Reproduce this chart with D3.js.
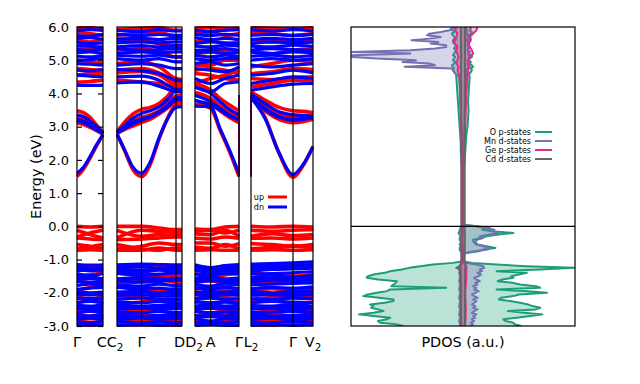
<!DOCTYPE html>
<html>
<head>
<meta charset="utf-8">
<script src="https://cdn.jsdelivr.net/npm/d3@7"></script>
<style>
  body { margin: 0; background: #fff; }
  text { font-family: 'DejaVu Sans', sans-serif; }
</style>
</head>
<body>
<div id="chart"></div>
<script>
// ---------------- DATA ----------------
var energyTicks = [-3, -2, -1, 0, 1, 2, 3, 4, 5, 6];

// high symmetry points (k distance inside each panel)
var kNodes = [[0, 0.26], [0, 0.245, 0.59, 0.65], [0, 0.157, 0.44], [0, 0.42, 0.62]];
var kLabels = [
  { text: 'Γ', at: [0, 0] },
  { text: 'CC', sub: '2', at: [0, 0.26], to: [1, 0] },
  { text: 'Γ', at: [1, 0.245] },
  { text: 'DD', sub: '2', at: [1, 0.65], to: [2, 0] },
  { text: 'A', at: [2, 0.157] },
  { text: 'Γ', at: [2, 0.44] },
  { text: 'L', sub: '2', at: [3, 0] },
  { text: 'Γ', at: [3, 0.42] },
  { text: 'V', sub: '2', at: [3, 0.62] }
];

// k samples for the dispersive bands and for the flat ones
var kFine = [
  [0, 0.065, 0.13, 0.195, 0.26],
  [0, 0.08, 0.16, 0.245, 0.33, 0.42, 0.50, 0.59, 0.65],
  [0, 0.157, 0.25, 0.345, 0.44],
  [0, 0.14, 0.28, 0.42, 0.52, 0.62]
];
var kCoarse = [[0, 0.13, 0.26], [0, 0.245, 0.42, 0.59, 0.65], [0, 0.157, 0.30, 0.44], [0, 0.21, 0.42, 0.62]];

// spin up bands (eV)
var upFine = [
  [[1.50,1.72,2.05,2.42,2.76],[2.78,2.25,1.70,1.50,1.85,2.62,3.22,3.66,3.68],[3.68,3.55,2.90,2.25,1.50],[3.92,3.28,2.20,1.48,1.82,2.40]],
  [[3.48,3.42,3.28,3.05,2.82],[2.85,3.15,3.38,3.52,3.58,3.70,3.90,4.20,4.22],[4.30,4.10,3.85,3.65,3.48],[4.05,3.80,3.58,3.48,3.46,3.42]],
  [[3.28,3.22,3.10,2.95,2.80],[2.82,3.00,3.15,3.28,3.35,3.48,3.68,3.92,3.94],[4.03,3.85,3.62,3.45,3.28],[3.95,3.62,3.38,3.28,3.30,3.34]],
  [[3.12,3.06,2.98,2.88,2.78],[2.80,2.92,3.02,3.12,3.22,3.38,3.55,3.75,3.76],[3.64,3.70,3.48,3.28,3.12],[3.85,3.48,3.22,3.12,3.15,3.22]]
];
var upCoarse = [
  [[0.00,-0.02,0.00],[0.00,0.00,-0.05,-0.10,-0.10],[-0.08,-0.10,-0.02,0.00],[0.00,-0.02,0.00,-0.02]],
  [[-0.12,-0.25,-0.35],[-0.35,-0.12,-0.15,-0.18,-0.18],[-0.15,-0.12,-0.20,-0.12],[-0.12,-0.15,-0.12,-0.10]],
  [[-0.32,-0.20,-0.12],[-0.12,-0.30,-0.25,-0.28,-0.28],[-0.22,-0.25,-0.12,-0.30],[-0.30,-0.22,-0.28,-0.25]],
  [[-0.35,-0.38,-0.40],[-0.40,-0.38,-0.35,-0.32,-0.32],[-0.35,-0.38,-0.32,-0.36],[-0.36,-0.35,-0.38,-0.35]],
  [[-0.55,-0.60,-0.68],[-0.68,-0.60,-0.50,-0.55,-0.55],[-0.50,-0.50,-0.60,-0.52],[-0.52,-0.55,-0.60,-0.55]],
  [[-0.68,-0.62,-0.55],[-0.55,-0.68,-0.72,-0.65,-0.65],[-0.62,-0.66,-0.55,-0.68],[-0.68,-0.62,-0.58,-0.65]],
  [[-0.72,-0.70,-0.72],[-0.72,-0.72,-0.65,-0.72,-0.72],[-0.72,-0.70,-0.72,-0.72],[-0.72,-0.70,-0.72,-0.70]],
  [[-1.22,-1.20,-1.24],[-1.24,-1.20,-1.22,-1.20,-1.20],[-1.22,-1.26,-1.20,-1.24],[-1.24,-1.22,-1.20,-1.22]],
  [[-1.50,-1.46,-1.40],[-1.40,-1.48,-1.50,-1.46,-1.46],[-1.42,-1.50,-1.46,-1.40],[-1.40,-1.46,-1.50,-1.44]],
  [[-1.62,-1.70,-1.72],[-1.72,-1.66,-1.60,-1.68,-1.68],[-1.70,-1.64,-1.72,-1.66],[-1.66,-1.70,-1.62,-1.66]],
  [[-1.92,-1.84,-1.80],[-1.80,-1.92,-1.94,-1.88,-1.88],[-1.90,-1.84,-1.92,-1.94],[-1.94,-1.88,-1.92,-1.86]],
  [[-2.12,-2.18,-2.10],[-2.10,-2.14,-2.22,-2.14,-2.14],[-2.18,-2.10,-2.14,-2.20],[-2.20,-2.14,-2.10,-2.16]],
  [[-2.30,-2.24,-2.34],[-2.34,-2.28,-2.24,-2.32,-2.32],[-2.28,-2.34,-2.26,-2.30],[-2.30,-2.24,-2.32,-2.28]],
  [[-2.52,-2.44,-2.46],[-2.46,-2.54,-2.50,-2.44,-2.44],[-2.50,-2.46,-2.52,-2.44],[-2.44,-2.52,-2.48,-2.54]],
  [[-2.62,-2.70,-2.64],[-2.64,-2.66,-2.72,-2.64,-2.64],[-2.70,-2.62,-2.68,-2.72],[-2.72,-2.64,-2.70,-2.62]],
  [[-2.84,-2.78,-2.82],[-2.82,-2.86,-2.80,-2.84,-2.84],[-2.80,-2.86,-2.82,-2.78],[-2.78,-2.84,-2.80,-2.86]],
  [[-2.94,-2.98,-2.92],[-2.92,-2.96,-2.94,-2.98,-2.98],[-2.92,-2.90,-2.96,-2.94],[-2.94,-2.98,-2.92,-2.96]],
  [[4.34,4.36,4.40],[4.40,4.34,4.30,4.18,4.15],[4.30,4.45,4.55,4.70],[4.20,4.30,4.40,4.36]],
  [[4.55,4.60,4.62],[4.62,4.66,4.55,4.25,4.22],[4.60,4.55,4.45,4.40],[4.45,4.42,4.48,4.50]],
  [[4.75,4.72,4.70],[4.70,4.75,4.62,4.35,4.32],[4.70,4.75,4.70,4.60],[4.60,4.65,4.75,4.72]],
  [[5.00,4.95,4.90],[4.90,4.95,4.80,4.45,4.42],[4.85,4.85,5.00,5.00],[4.80,4.90,5.00,4.95]],
  [[5.40,5.35,5.30],[5.30,5.35,5.25,5.10,5.10],[5.20,5.25,5.30,5.25],[5.30,5.20,5.30,5.35]],
  [[5.60,5.55,5.65],[5.65,5.60,5.50,5.40,5.40],[5.55,5.60,5.50,5.55],[5.60,5.55,5.60,5.55]],
  [[5.85,5.80,5.75],[5.75,5.82,5.85,5.70,5.70],[5.80,5.85,5.75,5.80],[5.85,5.80,5.75,5.80]],
  [[5.96,5.98,5.92],[5.92,5.96,5.98,5.90,5.90],[5.96,5.98,5.95,5.97],[5.98,5.96,5.95,5.98]]
];

// spin down bands (eV)
var dnFine = [
  [[1.60,1.78,2.10,2.45,2.76],[2.78,2.28,1.78,1.60,1.92,2.66,3.20,3.58,3.60],[3.62,3.60,2.95,2.30,1.58],[3.88,3.25,2.22,1.56,1.86,2.40]],
  [[3.36,3.30,3.18,3.00,2.80],[2.83,3.05,3.25,3.40,3.48,3.60,3.80,4.08,4.10],[4.19,4.00,3.75,3.52,3.36],[3.98,3.70,3.45,3.36,3.34,3.30]],
  [[3.18,3.12,3.02,2.90,2.78],[2.80,2.95,3.08,3.20,3.28,3.42,3.58,3.80,3.82],[3.94,3.75,3.55,3.35,3.20],[3.90,3.55,3.30,3.20,3.22,3.26]],
  [[3.22,3.16,3.06,2.92,2.79],[2.81,2.97,3.12,3.24,3.30,3.45,3.62,3.86,3.88],[3.79,3.65,3.50,3.32,3.22],[3.86,3.52,3.28,3.22,3.24,3.28]]
];
var dnCoarse = [
  [[-1.15,-1.17,-1.16],[-1.16,-1.14,-1.15,-1.16,-1.16],[-1.16,-1.24,-1.18,-1.15],[-1.14,-1.12,-1.10,-1.07]],
  [[-1.22,-1.28,-1.25],[-1.25,-1.22,-1.26,-1.24,-1.24],[-1.26,-1.30,-1.22,-1.23],[-1.22,-1.20,-1.18,-1.15]],
  [[-1.36,-1.30,-1.34],[-1.34,-1.38,-1.32,-1.36,-1.36],[-1.32,-1.38,-1.34,-1.36],[-1.36,-1.30,-1.28,-1.26]],
  [[-1.44,-1.48,-1.42],[-1.42,-1.46,-1.44,-1.40,-1.40],[-1.44,-1.46,-1.42,-1.44],[-1.44,-1.42,-1.40,-1.36]],
  [[-1.55,-1.52,-1.58],[-1.58,-1.54,-1.56,-1.60,-1.60],[-1.56,-1.52,-1.58,-1.55],[-1.55,-1.50,-1.52,-1.48]],
  [[-1.66,-1.70,-1.64],[-1.64,-1.68,-1.66,-1.62,-1.62],[-1.68,-1.64,-1.66,-1.68],[-1.68,-1.62,-1.64,-1.60]],
  [[-1.78,-1.74,-1.76],[-1.76,-1.80,-1.74,-1.78,-1.78],[-1.76,-1.80,-1.74,-1.76],[-1.76,-1.74,-1.72,-1.70]],
  [[-1.90,-1.86,-1.84],[-1.84,-1.88,-1.86,-1.90,-1.90],[-1.86,-1.88,-1.84,-1.88],[-1.88,-1.84,-1.86,-1.82]],
  [[-1.96,-2.00,-1.98],[-1.98,-1.96,-2.00,-1.96,-1.96],[-2.00,-1.96,-1.98,-1.96],[-1.96,-2.00,-1.96,-1.94]],
  [[-2.08,-2.04,-2.08],[-2.08,-2.06,-2.10,-2.08,-2.08],[-2.06,-2.10,-2.06,-2.08],[-2.08,-2.06,-2.08,-2.06]],
  [[-2.18,-2.16,-2.20],[-2.20,-2.16,-2.18,-2.20,-2.20],[-2.18,-2.16,-2.20,-2.18],[-2.18,-2.20,-2.16,-2.18]],
  [[-2.30,-2.26,-2.28],[-2.28,-2.30,-2.26,-2.30,-2.30],[-2.26,-2.30,-2.28,-2.30],[-2.30,-2.26,-2.28,-2.30]],
  [[-2.38,-2.40,-2.36],[-2.36,-2.40,-2.38,-2.36,-2.36],[-2.40,-2.36,-2.40,-2.38],[-2.38,-2.40,-2.36,-2.40]],
  [[-2.48,-2.50,-2.50],[-2.50,-2.46,-2.50,-2.48,-2.48],[-2.50,-2.46,-2.48,-2.50],[-2.50,-2.46,-2.50,-2.48]],
  [[-2.60,-2.56,-2.58],[-2.58,-2.60,-2.56,-2.60,-2.60],[-2.56,-2.60,-2.58,-2.60],[-2.60,-2.58,-2.56,-2.60]],
  [[-2.68,-2.70,-2.66],[-2.66,-2.70,-2.68,-2.66,-2.66],[-2.70,-2.68,-2.70,-2.66],[-2.66,-2.70,-2.68,-2.66]],
  [[-2.80,-2.76,-2.80],[-2.80,-2.76,-2.80,-2.78,-2.78],[-2.76,-2.86,-2.78,-2.80],[-2.80,-2.76,-2.80,-2.78]],
  [[-2.88,-2.90,-2.86],[-2.86,-2.90,-2.88,-2.90,-2.90],[-2.88,-2.92,-2.90,-2.88],[-2.88,-2.90,-2.86,-2.90]],
  [[-2.98,-2.96,-2.98],[-2.98,-2.96,-2.98,-2.96,-2.96],[-2.98,-2.96,-2.98,-2.98],[-2.98,-2.96,-2.98,-2.96]],
  [[-1.30,-1.34,-1.28],[-1.28,-1.32,-1.30,-1.28,-1.28],[-1.30,-1.34,-1.28,-1.30],[-1.30,-1.26,-1.24,-1.22]],
  [[-1.60,-1.58,-1.62],[-1.62,-1.58,-1.62,-1.56,-1.56],[-1.62,-1.58,-1.62,-1.60],[-1.60,-1.56,-1.58,-1.54]],
  [[-2.02,-2.06,-2.02],[-2.02,-2.02,-2.04,-2.02,-2.02],[-2.02,-2.04,-2.02,-2.02],[-2.02,-2.04,-2.02,-2.00]],
  [[-2.42,-2.44,-2.42],[-2.42,-2.44,-2.42,-2.42,-2.42],[-2.44,-2.42,-2.44,-2.44],[-2.44,-2.42,-2.44,-2.44]],
  [[-2.74,-2.72,-2.74],[-2.74,-2.73,-2.74,-2.72,-2.72],[-2.74,-2.72,-2.74,-2.72],[-2.72,-2.74,-2.72,-2.72]],
  [[4.25,4.24,4.25],[4.32,4.35,4.22,4.05,4.03],[4.19,4.05,4.30,4.35],[4.10,4.20,4.28,4.30]],
  [[4.55,4.52,4.50],[4.50,4.52,4.40,4.12,4.10],[4.45,4.30,4.45,4.55],[4.30,4.40,4.50,4.45]],
  [[4.70,4.68,4.72],[4.72,4.68,4.60,4.40,4.38],[4.75,4.70,4.65,4.80],[4.55,4.60,4.70,4.62]],
  [[4.90,4.88,4.85],[4.85,4.90,4.85,4.75,4.75],[4.90,4.95,4.85,4.90],[4.85,4.80,4.85,4.90]],
  [[5.00,5.02,5.05],[5.05,5.00,5.05,4.95,4.95],[5.05,5.00,5.05,5.05],[5.00,5.05,5.00,5.05]],
  [[5.12,5.10,5.15],[5.15,5.12,5.15,5.10,5.10],[5.15,5.10,5.15,5.12],[5.12,5.15,5.10,5.15]],
  [[5.22,5.25,5.20],[5.20,5.25,5.22,5.25,5.25],[5.22,5.25,5.20,5.24],[5.24,5.20,5.25,5.22]],
  [[5.32,5.30,5.35],[5.35,5.30,5.32,5.35,5.35],[5.30,5.32,5.35,5.30],[5.30,5.35,5.32,5.30]],
  [[5.45,5.42,5.40],[5.40,5.44,5.40,5.45,5.45],[5.42,5.40,5.45,5.42],[5.42,5.40,5.45,5.42]],
  [[5.55,5.50,5.52],[5.52,5.55,5.52,5.55,5.55],[5.50,5.55,5.52,5.50],[5.50,5.55,5.52,5.55]],
  [[5.65,5.68,5.62],[5.62,5.66,5.62,5.66,5.66],[5.68,5.62,5.66,5.62],[5.62,5.66,5.62,5.66]],
  [[5.75,5.72,5.78],[5.78,5.74,5.78,5.75,5.75],[5.78,5.74,5.78,5.75],[5.75,5.78,5.74,5.78]],
  [[5.88,5.92,5.90],[5.90,5.86,5.92,5.88,5.88],[5.90,5.86,5.90,5.92],[5.92,5.88,5.92,5.88]]
];

// vertical jumps drawn at the panel edges (panel, k, from eV, to eV)
var jumpLines = [[2, 0.44, 1.50, 3.95], [3, 0, 1.50, 3.95]];
var spinLabels = ['up', 'dn'];

// PDOS (a.u.), energies shared by O and Mn
var pdosEnergy = [
  -3.00,-2.95,-2.90,-2.85,-2.80,-2.75,-2.70,-2.65,-2.60,-2.55,
  -2.50,-2.45,-2.40,-2.35,-2.30,-2.25,-2.20,-2.15,-2.10,-2.05,
  -2.00,-1.95,-1.90,-1.85,-1.80,-1.75,-1.70,-1.65,-1.60,-1.55,
  -1.50,-1.45,-1.40,-1.35,-1.30,-1.25,-1.20,-1.15,-1.10,
  -1.05,-0.85,
  -0.80,-0.75,-0.70,-0.65,-0.60,-0.55,-0.50,-0.45,-0.40,-0.35,-0.30,-0.25,-0.20,-0.15,-0.10,-0.05,0.00,0.05,
  0.10,1.40,
  1.50,1.75,2.00,2.25,2.50,2.75,3.00,3.25,3.50,3.75,4.00,4.25,4.50,
  4.55,4.60,4.65,4.70,4.75,4.80,4.85,4.90,4.95,5.00,5.05,5.10,5.15,5.20,5.25,
  5.30,5.35,5.40,5.45,5.50,5.55,5.60,5.65,5.70,5.75,5.80,5.85,5.90,5.95,6.00
];
var oUp = [
  5.2,4.6,4.5,3.8,3.6,4.8,6.0,7.1,5.5,4.0, 6.5,6.9,6.2,5.8,5.1,4.2,3.2,3.4,4.5,5.0,
  7.5,5.5,3.0,6.9,6.5,5.1,4.4,3.1,3.5,4.5, 4.3,5.0,5.7,3.0,6.9,10.0,5.7,3.0,0.8,
  0,0,
  0.3,1.4,1.8,2.9,2.1,1.3,1.2,0.9,0.9,1.6,2.1,3.0,4.5,2.6,1.7,2.4,1.2,0.0,
  0,0,
  0.05,0.1,0.15,0.2,0.25,0.3,0.4,0.45,0.5,0.45,0.5,0.55,0.6,
  0.5,0.6,0.7,0.8,0.7,0.9,0.8,0.6,0.7,0.5,0.6,0.8,0.7,0.5,0.6,
  0.4,0.5,0.6,0.4,0.5,0.6,0.5,0.7,0.6,0.5,0.7,0.8,0.6,0.7,0.6
];
var oDn = [
  5.3,6.0,7.4,7.6,6.8,6.5,8.0,9.3,8.0,7.1, 7.6,8.2,8.0,8.3,7.0,6.2,6.2,7.5,8.9,8.5,
  7.7,6.8,6.5,1.5,6.4,6.2,6.0,5.9,7.6,8.6, 8.5,8.0,7.0,6.5,5.5,4.8,3.8,2.7,0.9,
  0,0,
  0.1,0.2,0.3,0.3,0.2,0.3,0.2,0.2,0.3,0.3,0.2,0.3,0.4,0.3,0.3,0.2,0.2,0.0,
  0,0,
  0.05,0.1,0.15,0.2,0.2,0.25,0.3,0.35,0.4,0.45,0.5,0.55,0.6,
  0.6,0.7,0.8,0.9,0.8,0.9,1.0,0.8,0.7,0.9,0.8,0.7,0.9,0.8,0.7,
  0.6,0.8,0.7,0.6,0.8,0.9,0.7,0.6,0.8,0.9,1.0,0.8,0.9,1.1,0.9
];
var mnUp = [
  0.6,0.9,0.7,1.0,0.8,1.1,0.9,1.2,0.8,1.0, 1.3,0.9,1.1,0.8,1.0,1.2,0.9,1.3,1.0,0.8,
  1.1,1.4,1.0,1.2,0.9,1.3,1.1,1.5,1.2,1.0, 1.4,1.6,1.3,1.7,1.5,1.9,1.8,1.2,0.2,
  0,0,
  0.2,1.0,2.2,2.4,1.8,1.2,1.0,1.1,1.3,1.8,1.5,2.2,3.2,2.6,2.8,1.9,1.2,0.0,
  0,0,
  0.05,0.05,0.05,0.1,0.1,0.1,0.15,0.15,0.2,0.2,0.2,0.25,0.3,
  0.3,0.35,0.4,0.35,0.4,0.5,0.45,0.4,0.5,0.45,0.5,0.55,0.5,0.45,0.5,
  0.4,0.45,0.5,0.4,0.45,0.4,0.35,0.4,0.45,0.4,0.35,0.4,0.35,0.3,0.3
];
var mnDn = [
  0.3,0.25,0.3,0.35,0.3,0.25,0.3,0.35,0.3,0.3, 0.25,0.3,0.35,0.3,0.3,0.25,0.3,0.35,0.3,0.3,
  0.25,0.3,0.35,0.3,0.3,0.25,0.3,0.35,0.3,0.3, 0.25,0.3,0.35,0.3,0.35,0.4,0.3,0.2,0.1,
  0,0,
  0.1,0.1,0.15,0.15,0.1,0.1,0.1,0.15,0.1,0.1,0.15,0.1,0.1,0.15,0.1,0.1,0.1,0.0,
  0,0,
  0.05,0.05,0.1,0.1,0.1,0.15,0.15,0.2,0.2,0.25,0.25,0.3,0.35,
  0.5,0.7,0.8,0.9,1.0,5.2,2.5,3.0,5.4,4.2,7.7,9.9,9.9,4.7,9.9,
  4.7,2.5,1.5,1.5,2.9,2.2,4.6,3.0,2.0,3.2,3.0,2.0,1.2,0.9,0.7
];
var geEnergy = [-3.0,-2.5,-2.0,-1.5,-1.2,-1.1,-1.0,-0.8,-0.4,0.0,0.1,1.4,1.5,2.5,3.5,4.0,4.5,4.6,4.7,4.8,4.9,5.0,5.1,5.2,5.3,5.4,5.5,5.6,5.7,5.8,5.9,6.0];
var geUp = [0.2,0.25,0.2,0.3,0.3,0.1,0.0,0.1,0.15,0.1,0.0,0.0,0.05,0.15,0.25,0.3,0.4,0.5,0.4,0.6,0.5,0.4,0.7,0.9,0.8,0.6,0.5,0.7,0.6,0.9,1.2,1.3];
var geDn = [0.15,0.2,0.15,0.2,0.2,0.1,0.0,0.05,0.1,0.05,0.0,0.0,0.05,0.1,0.2,0.25,0.3,0.4,0.5,0.4,0.6,0.5,0.4,0.5,0.6,0.5,0.7,0.9,0.6,0.5,0.7,0.6];
var cdEnergy = [-3.0,-2.0,-1.3,-1.25,-1.2,-1.1,-1.0,0.0,1.5,3.0,4.5,5.0,5.5,6.0];
var cdUp = [0.18,0.18,0.18,0.22,0.22,0.18,0.15,0.15,0.15,0.15,0.18,0.18,0.18,0.18];
var cdDn = [0.18,0.18,0.22,0.6,0.3,0.18,0.15,0.15,0.15,0.15,0.18,0.18,0.18,0.18];
var pdosNames = ['O p-states', 'Mn d-states', 'Ge p-states', 'Cd d-states'];

// ---------------- CHART ----------------
var attrs = {
  svgWidth: 640,
  svgHeight: 384,
  plotTop: 27,
  plotBottom: 326,
  panelLeft: [77, 117, 195, 251],
  pxPerK: 100,
  pdosLeft: 351,
  pdosRight: 575,
  spinColors: ['#ff0000', '#0000ff'],
  spinWidths: [3.6, 3.2],
  pdosColors: ['#1b9e77', '#7570b3', '#e7298a', '#666666'],
  tickFont: 13,
  labelFont: 14.4,
  legendFont: 8
};

var svg = d3.select('#chart').append('svg')
  .attr('width', attrs.svgWidth)
  .attr('height', attrs.svgHeight)
  .style('background', '#fff');

var defs = svg.append('defs');

var y = d3.scaleLinear().domain([-3, 6]).range([attrs.plotBottom, attrs.plotTop]);

var xPanels = kNodes.map(function (nodes, i) {
  var len = nodes[nodes.length - 1];
  return d3.scaleLinear().domain([0, len]).range([attrs.panelLeft[i], attrs.panelLeft[i] + len * attrs.pxPerK]);
});

// clip + groups per panel
var panelG = xPanels.map(function (x, i) {
  defs.append('clipPath').attr('id', 'clip' + i)
    .append('rect')
    .attr('x', x.range()[0] - 1).attr('y', attrs.plotTop - 1)
    .attr('width', x.range()[1] - x.range()[0] + 2)
    .attr('height', attrs.plotBottom - attrs.plotTop + 2);
  return svg.append('g').attr('clip-path', 'url(#clip' + i + ')');
});

function drawBands(bands, grid, spin) {
  bands.forEach(function (band) {
    band.forEach(function (seg, p) {
      var line = d3.line()
        .x(function (d, j) { return xPanels[p](grid[p][j]); })
        .y(function (d) { return y(d); })
        .curve(d3.curveMonotoneX);
      panelG[p].append('path')
        .attr('d', line(seg))
        .attr('fill', 'none')
        .attr('stroke', attrs.spinColors[spin])
        .attr('stroke-width', attrs.spinWidths[spin])
        .attr('stroke-linejoin', 'round');
    });
  });
}

drawBands(upCoarse, kCoarse, 0);
drawBands(upFine, kFine, 0);
drawBands(dnCoarse, kCoarse, 1);
drawBands(dnFine, kFine, 1);

// jumps at the panel edges (both spins overlap)
jumpLines.forEach(function (j) {
  var xx = xPanels[j[0]](j[1]);
  [0, 1].forEach(function (s) {
    svg.append('line')
      .attr('x1', xx).attr('x2', xx)
      .attr('y1', y(j[2])).attr('y2', y(j[3]))
      .attr('stroke', attrs.spinColors[s])
      .attr('stroke-width', 2)
      .attr('opacity', s ? 0.5 : 1);
  });
});

// frames and high-symmetry lines
xPanels.forEach(function (x, i) {
  svg.append('rect')
    .attr('x', x.range()[0]).attr('y', attrs.plotTop)
    .attr('width', x.range()[1] - x.range()[0])
    .attr('height', attrs.plotBottom - attrs.plotTop)
    .attr('fill', 'none').attr('stroke', '#000').attr('stroke-width', 1.2);
  kNodes[i].slice(1, -1).forEach(function (k) {
    svg.append('line')
      .attr('x1', x(k)).attr('x2', x(k))
      .attr('y1', attrs.plotTop).attr('y2', attrs.plotBottom)
      .attr('stroke', '#000').attr('stroke-width', 1.2);
  });
});

// energy axis on the first panel
var fmt = function (d) { return d.toFixed(1); };
var axL = svg.append('g')
  .attr('transform', 'translate(' + xPanels[0].range()[0] + ',0)')
  .call(d3.axisLeft(y).tickValues(energyTicks).tickSize(-5).tickPadding(8).tickFormat(fmt));
var axR = svg.append('g')
  .attr('transform', 'translate(' + xPanels[0].range()[1] + ',0)')
  .call(d3.axisRight(y).tickValues(energyTicks).tickSize(-5).tickFormat(''));
[axL, axR].forEach(function (g) {
  g.select('.domain').remove();
  g.selectAll('line').attr('stroke-width', 1.2);
  g.attr('font-family', "'DejaVu Sans', sans-serif").attr('font-size', attrs.tickFont);
  g.selectAll('text').attr('fill', '#000');
});

svg.append('text')
  .attr('transform', 'translate(41,' + y(1.5) + ') rotate(-90)')
  .attr('text-anchor', 'middle')
  .attr('font-size', attrs.labelFont)
  .text('Energy (eV)');

// k-point labels
kLabels.forEach(function (l) {
  var xx = xPanels[l.at[0]](l.at[1]);
  if (l.to) xx = (xx + xPanels[l.to[0]](l.to[1])) / 2;
  var t = svg.append('text')
    .attr('x', xx).attr('y', 347)
    .attr('text-anchor', 'middle')
    .attr('font-size', attrs.labelFont)
    .text(l.text);
  if (l.sub) {
    t.append('tspan').attr('dy', 4).attr('font-size', attrs.labelFont * 0.72).text(l.sub);
  }
});

// spin legend
spinLabels.forEach(function (s, i) {
  var ly = 197 + i * 10;
  svg.append('text')
    .attr('x', 264).attr('y', ly + 3)
    .attr('text-anchor', 'end')
    .attr('font-size', attrs.legendFont)
    .text(s);
  svg.append('line')
    .attr('x1', 268).attr('x2', 287)
    .attr('y1', ly).attr('y2', ly)
    .attr('stroke', attrs.spinColors[i]).attr('stroke-width', 3);
});

// ---------------- PDOS ----------------
var xP = d3.scaleLinear().domain([-10, 10]).range([attrs.pdosLeft, attrs.pdosRight]);

defs.append('clipPath').attr('id', 'clipP')
  .append('rect')
  .attr('x', attrs.pdosLeft).attr('y', attrs.plotTop)
  .attr('width', attrs.pdosRight - attrs.pdosLeft)
  .attr('height', attrs.plotBottom - attrs.plotTop);
var pg = svg.append('g').attr('clip-path', 'url(#clipP)');

var pdosSeries = [
  [pdosEnergy, oUp, oDn],
  [pdosEnergy, mnUp, mnDn],
  [geEnergy, geUp, geDn],
  [cdEnergy, cdUp, cdDn]
];

pdosSeries.forEach(function (s, i) {
  var col = attrs.pdosColors[i];
  [1, -1].forEach(function (sign, k) {
    var vals = s[1 + k];
    var pts = s[0].map(function (e, j) { return [e, vals[j] * sign]; });
    var area = d3.area()
      .y(function (d) { return y(d[0]); })
      .x0(xP(0))
      .x1(function (d) { return xP(d[1]); });
    var line = d3.line()
      .y(function (d) { return y(d[0]); })
      .x(function (d) { return xP(d[1]); });
    pg.append('path').attr('d', area(pts))
      .attr('fill', col).attr('fill-opacity', 0.3).attr('stroke', 'none');
    pg.append('path').attr('d', line(pts))
      .attr('fill', 'none').attr('stroke', col).attr('stroke-width', 2)
      .attr('stroke-linejoin', 'round');
  });
});

// zero line and frame
svg.append('line')
  .attr('x1', attrs.pdosLeft).attr('x2', attrs.pdosRight)
  .attr('y1', y(0)).attr('y2', y(0))
  .attr('stroke', '#000').attr('stroke-width', 1.2);
svg.append('rect')
  .attr('x', attrs.pdosLeft).attr('y', attrs.plotTop)
  .attr('width', attrs.pdosRight - attrs.pdosLeft)
  .attr('height', attrs.plotBottom - attrs.plotTop)
  .attr('fill', 'none').attr('stroke', '#000').attr('stroke-width', 1.2);

svg.append('text')
  .attr('x', xP(0)).attr('y', 347)
  .attr('text-anchor', 'middle')
  .attr('font-size', attrs.labelFont)
  .text('PDOS (a.u.)');

// PDOS legend
pdosNames.forEach(function (n, i) {
  var ly = 132 + i * 9;
  svg.append('text')
    .attr('x', 531).attr('y', ly + 3)
    .attr('text-anchor', 'end')
    .attr('font-size', attrs.legendFont)
    .text(n);
  svg.append('line')
    .attr('x1', 535).attr('x2', 552)
    .attr('y1', ly).attr('y2', ly)
    .attr('stroke', attrs.pdosColors[i]).attr('stroke-width', 2);
});
</script>
</body>
</html>
